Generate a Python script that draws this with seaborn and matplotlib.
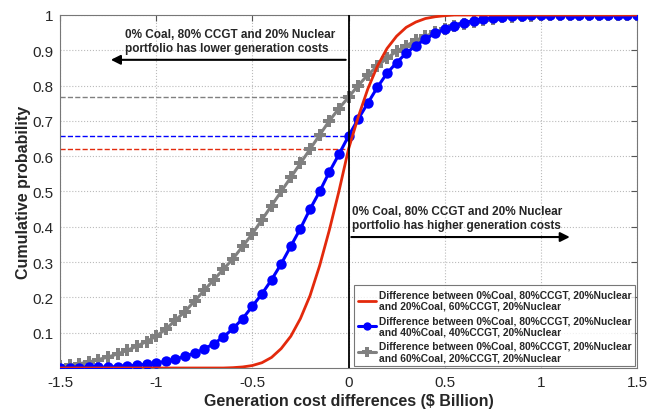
import numpy as np
import pandas as pd
import seaborn as sns
import matplotlib.pyplot as plt

# cost difference grid ($ Billion)
x_vals = np.round(np.arange(-1.5, 1.5001, 0.05), 2)

# 0/80/20 vs 20/60/20
red_cdf = [0.0, 0.0, 0.0, 0.0, 0.0, 0.0, 0.0, 0.0, 0.0, 0.0,
           0.0, 0.0, 0.0, 0.0, 0.0, 0.0, 0.0, 0.0, 0.001, 0.003,
           0.007, 0.015, 0.03, 0.055, 0.09, 0.14, 0.205, 0.29, 0.39, 0.50,
           0.62, 0.71, 0.79, 0.855, 0.905, 0.94, 0.965, 0.98, 0.99, 0.995,
           0.998, 1.0, 1.0, 1.0, 1.0, 1.0, 1.0, 1.0, 1.0, 1.0,
           1.0, 1.0, 1.0, 1.0, 1.0, 1.0, 1.0, 1.0, 1.0, 1.0, 1.0]

# 0/80/20 vs 40/40/20
blue_cdf = [0.0, 0.0005, 0.001, 0.0015, 0.002, 0.003, 0.004, 0.006, 0.008, 0.011,
            0.014, 0.019, 0.025, 0.033, 0.042, 0.054, 0.069, 0.088, 0.112, 0.14,
            0.175, 0.21, 0.25, 0.295, 0.345, 0.395, 0.45, 0.50, 0.555, 0.605,
            0.657, 0.705, 0.75, 0.795, 0.835, 0.865, 0.892, 0.913, 0.932, 0.948,
            0.96, 0.97, 0.978, 0.984, 0.989, 0.992, 0.995, 0.997, 0.998, 0.999,
            1.0, 1.0, 1.0, 1.0, 1.0, 1.0, 1.0, 1.0, 1.0, 1.0, 1.0]

# 0/80/20 vs 60/20/20
gray_cdf = [0.005, 0.008, 0.012, 0.017, 0.024, 0.031, 0.040, 0.050, 0.062, 0.075,
            0.090, 0.11, 0.135, 0.16, 0.19, 0.22, 0.25, 0.28, 0.31, 0.345,
            0.38, 0.42, 0.46, 0.50, 0.54, 0.58, 0.62, 0.66, 0.70, 0.735,
            0.767, 0.80, 0.83, 0.855, 0.878, 0.897, 0.913, 0.928, 0.94, 0.951,
            0.96, 0.968, 0.975, 0.981, 0.986, 0.99, 0.993, 0.995, 0.997, 0.998,
            0.999, 1.0, 1.0, 1.0, 1.0, 1.0, 1.0, 1.0, 1.0, 1.0, 1.0]

# probability of the 0/80/20 portfolio being cheaper (value at x = 0)
p_at_zero = {"red": 0.62, "blue": 0.657, "gray": 0.767}

labels = [
    "Difference between 0%Coal, 80%CCGT, 20%Nuclear\nand 20%Coal, 60%CCGT, 20%Nuclear",
    "Difference between 0%Coal, 80%CCGT, 20%Nuclear\nand 40%Coal, 40%CCGT, 20%Nuclear",
    "Difference between 0%Coal, 80%CCGT, 20%Nuclear\nand 60%Coal, 20%CCGT, 20%Nuclear",
]

red = "#e3290c"
blue = "#0000ff"
gray = "#808080"

sns.set_style("whitegrid")
plt.rcParams["font.family"] = ["Liberation Sans", "DejaVu Sans"]

df = pd.DataFrame({"x": x_vals, "red": red_cdf, "blue": blue_cdf, "gray": gray_cdf})

fig = plt.figure(figsize=(6.57, 4.10), dpi=100)
ax = fig.add_axes([0.0913, 0.1, 0.8783, 0.861])

# dashed reference lines up to zero
ax.hlines(p_at_zero["gray"], -1.5, 0, colors=gray, linestyles="--", lw=1)
ax.hlines(p_at_zero["blue"], -1.5, 0, colors=blue, linestyles="--", lw=1)
ax.hlines(p_at_zero["red"], -1.5, 0, colors=red, linestyles="--", lw=1)

sns.lineplot(data=df, x="x", y="gray", ax=ax, color=gray, lw=2.2, marker="P",
             markersize=8.5, markeredgewidth=0, label=labels[2], zorder=3)
sns.lineplot(data=df, x="x", y="blue", ax=ax, color=blue, lw=2.2, marker="o",
             markersize=7.5, markeredgewidth=0, label=labels[1], zorder=4)
sns.lineplot(data=df, x="x", y="red", ax=ax, color=red, lw=2, label=labels[0], zorder=5)

ax.axvline(0, color="black", lw=1.3, zorder=6)

# arrows + notes
ax.annotate("", xy=(-1.25, 0.873), xytext=(0, 0.873),
            arrowprops=dict(arrowstyle="-|>", color="black", lw=1.5, mutation_scale=14))
ax.text(-1.16, 0.962, "0% Coal, 80% CCGT and 20% Nuclear\nportfolio has lower generation costs",
        fontsize=8.5, fontweight="bold", va="top", ha="left", linespacing=1.2)
ax.annotate("", xy=(1.165, 0.371), xytext=(0, 0.371),
            arrowprops=dict(arrowstyle="-|>", color="black", lw=1.5, mutation_scale=14))
ax.text(0.02, 0.462, "0% Coal, 80% CCGT and 20% Nuclear\nportfolio has higher generation costs",
        fontsize=8.5, fontweight="bold", va="top", ha="left", linespacing=1.2)

ax.set_xlim(-1.5, 1.5)
ax.set_ylim(0, 1)
ax.set_xticks([-1.5, -1, -0.5, 0, 0.5, 1, 1.5])
ax.set_xticklabels(["-1.5", "-1", "-0.5", "0", "0.5", "1", "1.5"])
ax.set_yticks([0.1, 0.2, 0.3, 0.4, 0.5, 0.6, 0.7, 0.8, 0.9, 1])
ax.set_yticklabels(["0.1", "0.2", "0.3", "0.4", "0.5", "0.6", "0.7", "0.8", "0.9", "1"])
ax.tick_params(axis="both", direction="in", labelsize=11, length=4, color="#555555",
               top=True, right=True, pad=5)
ax.grid(True, linestyle=":", color="#bbbbbb", lw=0.8)
for s in ax.spines.values():
    s.set_color("#777777")
    s.set_linewidth(0.8)

ax.set_xlabel("Generation cost differences ($ Billion)", fontsize=11.5, fontweight="bold", labelpad=3)
ax.set_ylabel("Cumulative probability", fontsize=11.5, fontweight="bold", labelpad=1)

handles, lbls = ax.get_legend_handles_labels()
order = [lbls.index(l) for l in labels]
leg = ax.legend([handles[i] for i in order], [lbls[i] for i in order], loc="lower right",
                prop={"size": 7.4, "weight": "bold"}, frameon=True, fancybox=False,
                borderaxespad=0.15, handlelength=1.7, handletextpad=0.3,
                labelspacing=0.4, borderpad=0.4, markerscale=0.8)
leg.get_frame().set_edgecolor("#555555")
leg.get_frame().set_linewidth(0.8)

fig.savefig("out.png", dpi=100)
